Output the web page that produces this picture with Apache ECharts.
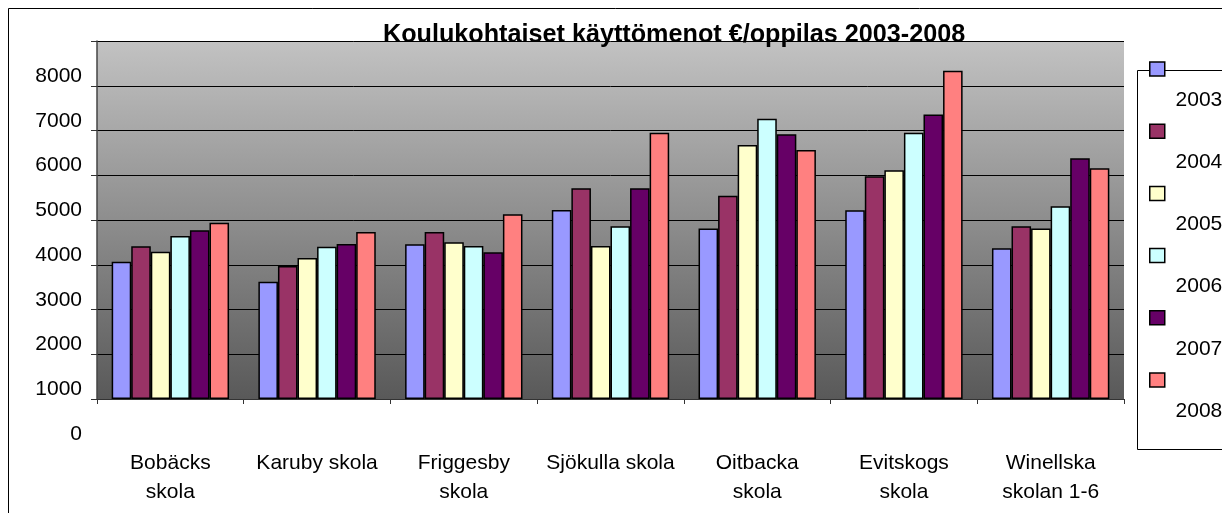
<!DOCTYPE html>
<html>
<head>
<meta charset="utf-8">
<script src="https://cdn.jsdelivr.net/npm/echarts@6/dist/echarts.min.js"></script>
<style>html,body{margin:0;padding:0;background:#fff}#c{width:1222px;height:513px}</style>
</head>
<body>
<div id="c"></div>
<script>
var titleText = 'Koulukohtaiset käyttömenot €/oppilas 2003-2008';
var categories = ['Bobäcks\nskola','Karuby skola','Friggesby\nskola','Sjökulla skola','Oitbacka\nskola','Evitskogs\nskola','Winellska\nskolan 1-6'];
var seriesNames = ['2003','2004','2005','2006','2007','2008'];
var y2003 = [3065, 2620, 3460, 4225, 3810, 4220, 3370];
var y2004 = [3415, 2970, 3730, 4710, 4540, 4980, 3860];
var y2005 = [3290, 3150, 3505, 3420, 5675, 5110, 3810];
var y2006 = [3645, 3405, 3420, 3860, 6265, 5950, 4310];
var y2007 = [3770, 3465, 3280, 4710, 5915, 6360, 5380];
var y2008 = [3940, 3730, 4130, 5950, 5565, 7335, 5155];
var colors = ['#9999FF','#993366','#FFFFCC','#CCFFFF','#660066','#FF8080'];
var yMin = 0, yMax = 8000, yStep = 1000;

var FONT = "'Liberation Sans', Arial, sans-serif";
var chart = echarts.init(document.getElementById('c'), null, {renderer:'canvas'});
var allData = [y2003, y2004, y2005, y2006, y2007, y2008];
var series = seriesNames.map(function(n, i){
  return {
    name: n, type: 'bar', data: allData[i], xAxisIndex: 0, yAxisIndex: 0,
    barGap: '0%', barCategoryGap: '20%',
    itemStyle: {color: colors[i], borderColor: '#000', borderWidth: 1.5},
    emphasis: {disabled: true}
  };
});
chart.setOption({
  animation: false,
  color: colors,
  title: {
    text: titleText, left: 383, top: 22, padding: 0,
    textStyle: {fontFamily: FONT, fontSize: 25.2, fontWeight: 'bold', color: '#000', lineHeight: 26}
  },
  grid: [{
    left: 97, top: 41, right: 98, bottom: 114, show: true, borderWidth: 0,
    backgroundColor: {type:'linear', x:0, y:0, x2:0, y2:1, colorStops:[{offset:0,color:'#c2c2c2'},{offset:1,color:'#595959'}]}
  }, {
    /* Excel's tick labels sit ~35px below their gridlines */
    left: 97, top: 76, right: 98, bottom: 79, show: false
  }],
  legend: {
    orient: 'vertical', left: 1149, top: 7, padding: 0,
    itemWidth: 15, itemHeight: 14, itemGap: -61.8, icon: 'rect',
    itemStyle: {borderColor: '#000', borderWidth: 1.5},
    textStyle: {fontFamily: FONT, fontSize: 21, color: '#000', lineHeight: 62},
    formatter: function(n){ return '\n ' + n; },
    data: seriesNames,
    selectedMode: false
  },
  xAxis: [{
    type: 'category', data: categories, gridIndex: 0,
    axisLine: {lineStyle: {color: '#333', width: 1}},
    axisTick: {show: true, length: 5, lineStyle: {color: '#333'}},
    axisLabel: {fontFamily: FONT, fontSize: 21, color: '#000', margin: 50, lineHeight: 29, interval: 0}
  }, {
    type: 'value', gridIndex: 1, show: false, min: 0, max: 1
  }],
  yAxis: [{
    type: 'value', gridIndex: 0, min: yMin, max: yMax, interval: yStep,
    axisLine: {show: true, lineStyle: {color: '#444', width: 1.5}},
    axisTick: {show: true, length: 6, lineStyle: {color: '#333'}},
    splitLine: {show: true, lineStyle: {color: '#000', width: 1}},
    axisLabel: {show: false}
  }, {
    type: 'value', gridIndex: 1, min: yMin, max: yMax, interval: yStep,
    axisLine: {show: false}, axisTick: {show: false}, splitLine: {show: false},
    axisLabel: {fontFamily: FONT, fontSize: 21, color: '#000', margin: 15,
      showMinLabel: true, showMaxLabel: true,
      formatter: function(v){ return String(v); }}
  }],
  graphic: [
    {type:'rect', z: 0, silent: true, shape:{x:8.5, y:8.5, width:1400, height:700}, style:{fill:'none', stroke:'#000', lineWidth:1}},
    {type:'rect', z: 0, silent: true, shape:{x:1137.5, y:70.5, width:200, height:379}, style:{fill:'#fff', stroke:'#000', lineWidth:1}}
  ],
  series: series
});
</script>
</body>
</html>
